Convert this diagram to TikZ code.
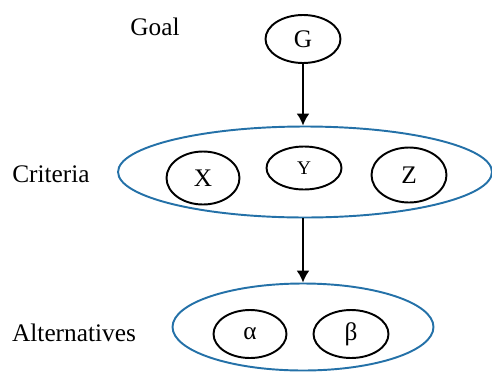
\documentclass[tikz,border=0pt]{standalone}
\usepackage{fontspec}
\setmainfont{Liberation Serif}
\usetikzlibrary{arrows.meta,positioning,shapes.geometric}
\definecolor{grpblue}{HTML}{2471A8}
\tikzset{
  crit/.style={ellipse, draw=black, line width=1.1pt, inner sep=0pt,
               minimum width=1.5cm, minimum height=0.96cm},
  grp/.style={ellipse, draw=grpblue, line width=1.1pt, inner sep=0pt},
  lbl/.style={inner sep=0pt},
  arr/.style={-{Latex[length=2.4mm,width=2.6mm]}, line width=1.1pt, draw=black},
}

\begin{document}
\begin{tikzpicture}[x=0.02cm, y=-0.02cm, font=\fontsize{14.4}{17}\selectfont]
    \useasboundingbox (0,0) rectangle (492,372);
    % goal level
    \node[crit] (g) at (303,39) {G};
    \node[lbl] (goal) at (155,27) {Goal};
    % criteria level
    \node[grp, minimum width=7.48cm, minimum height=1.82cm] (crits) at (305,172) {};
    \node[crit, minimum width=1.46cm, minimum height=1.06cm] (x) at (203,178) {X};
    \node[crit, minimum height=0.86cm, font=\fontsize{11}{13}\selectfont] (y) at (304,168) {Y};
    \node[crit, minimum height=1.1cm] (z) at (409,175) {Z};
    \node[lbl] (critlbl) at (51,174) {Criteria};
    % alternatives level
    \node[grp, minimum width=5.22cm, minimum height=1.74cm] (alts) at (303,327) {};
    \node[crit, minimum width=1.46cm] (al) at (250,334) {α};
    \node[crit] (be) at (351,334) {β};
    \node[lbl] (altlbl) at (74,333) {Alternatives};
    \draw[arr] (g.south) -- (g.south |- crits.north);
    \draw[arr] (alts.north |- crits.south) -- (alts.north);
  \end{tikzpicture}
\end{document}
